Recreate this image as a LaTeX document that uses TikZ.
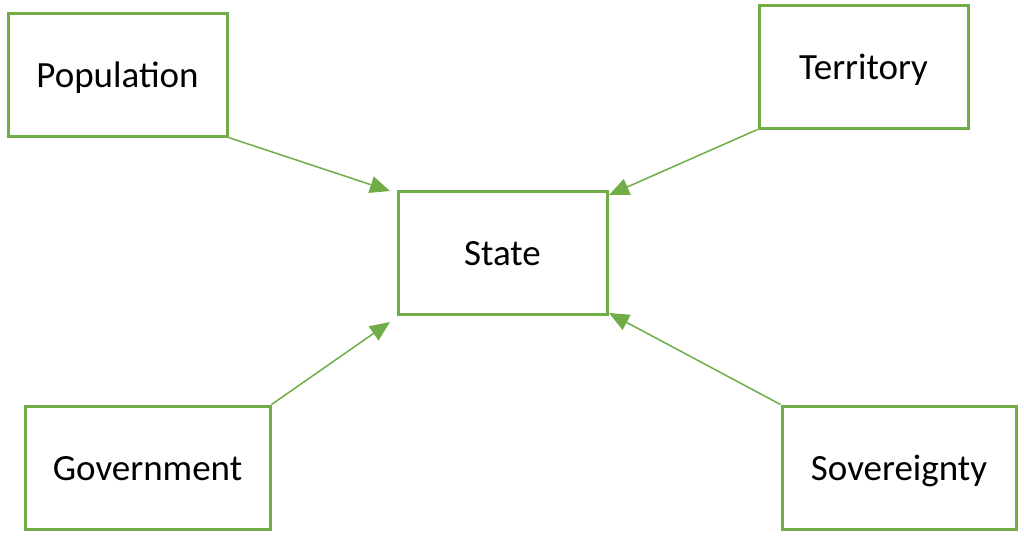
\documentclass[tikz,border=0pt]{standalone}
\usepackage{fontspec}
\setmainfont{Carlito}
\usetikzlibrary{arrows.meta}
\definecolor{verde}{HTML}{70AD47}
\begin{document}
\begin{tikzpicture}[
                x=1pt, y=-1pt,
                caixa/.style={shape=rectangle, draw=verde, line width=3pt, minimum height=123pt,
                    font=\fontsize{37}{44}\selectfont, inner sep=0pt, text height=25pt, text depth=0pt},
                seta/.style={draw=verde, line width=1.5pt, -{Triangle[length=20pt, width=17pt]}},
            ]
            \useasboundingbox (0, 0) rectangle (1024, 541);
            \node[caixa, minimum width=219pt] (pop) at (117.5, 74.5) {Population};
            \node[caixa, minimum width=209pt] (ter) at (863.5, 66.5) {Territory};
            \node[caixa, minimum width=209pt] (est) at (502.5, 252.5) {State};
            \node[caixa, minimum width=245pt] (gov) at (147.5, 467.5) {Government};
            \node[caixa, minimum width=234pt] (sob) at (899, 467.5) {Sovereignty};
            \coordinate (pontapop) at (390, 191);
            \coordinate (pontater) at (609, 195);
            \coordinate (pontagov) at (390, 322);
            \coordinate (pontasob) at (609, 313);
            \draw[seta] (pop.south east) -- (pontapop);
            \draw[seta] (ter.south west) -- (pontater);
            \draw[seta] (gov.north east) -- (pontagov);
            \draw[seta] (sob.north west) -- (pontasob);
        \end{tikzpicture}
\end{document}
